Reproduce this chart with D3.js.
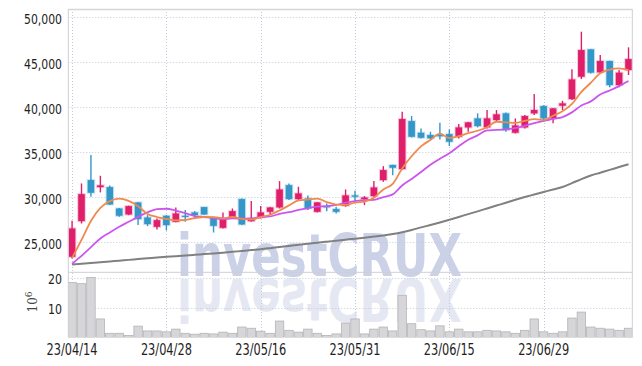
<!DOCTYPE html>
<html><head><meta charset="utf-8">
<script src="https://cdn.jsdelivr.net/npm/d3@7"></script>
<style>
body{margin:0;background:#fff}
svg{display:block}
text{font-family:"DejaVu Sans Condensed","DejaVu Sans",sans-serif}
</style>
</head><body><svg id="c" width="642" height="366"></svg>
<script>
const dates=["23/04/14","23/04/17","23/04/18","23/04/19","23/04/20","23/04/21","23/04/24","23/04/25","23/04/26","23/04/27",
"23/04/28","23/05/02","23/05/03","23/05/04","23/05/08","23/05/09","23/05/10","23/05/11","23/05/12","23/05/15",
"23/05/16","23/05/17","23/05/18","23/05/19","23/05/22","23/05/23","23/05/24","23/05/25","23/05/26","23/05/30",
"23/05/31","23/06/01","23/06/02","23/06/05","23/06/07","23/06/08","23/06/09","23/06/12","23/06/13","23/06/14",
"23/06/15","23/06/16","23/06/19","23/06/20","23/06/21","23/06/22","23/06/23","23/06/26","23/06/27","23/06/28",
"23/06/29","23/06/30","23/07/03","23/07/04","23/07/05","23/07/06","23/07/07","23/07/10","23/07/11","23/07/12"];
const open=[23370,27330,31890,31110,31110,28740,28070,29410,27740,26700,27930,27260,27930,28300,28890,27740,26590,27700,29780,27330,
27740,28370,28850,31330,29780,29850,28370,29000,28670,29040,30190,29780,30110,31890,33560,33110,38440,37150,36890,36890,
37000,36700,37740,38740,37740,38560,39300,37150,37740,39300,40110,38740,40150,40890,43370,46410,43850,45110,42440,44110];
const high=[27370,31520,34670,32370,31300,28780,29050,29450,28000,27630,28000,28850,28560,28440,28900,27800,28300,28740,29850,29560,
29000,28900,31780,31520,31150,30190,29450,29300,28930,30850,30700,30110,31780,33440,33600,39480,39000,37630,37260,38260,
37520,38110,38350,39300,39670,39670,39400,38740,39110,41440,40200,39900,40700,44190,48370,46450,45780,45150,44110,46630];
const low=[23190,27070,30040,30520,29110,27810,28000,26890,26780,26410,26300,27200,27260,27560,28000,26070,26520,27630,26890,27260,
27630,28000,28740,29670,29670,28560,28300,28440,28180,28930,29480,29110,30040,31700,32440,33000,36630,36520,36410,36410,
35670,36520,37260,37740,37630,38370,37260,37070,37630,39110,38370,38190,39670,40780,43110,43740,43740,42190,42190,43560];
const close=[26520,30330,30480,31300,29180,27930,29000,27560,27000,27440,26890,28180,27810,28000,28070,26810,27630,28440,26960,27630,
28300,28850,30850,29780,30410,28740,29410,28930,28370,30190,30040,29960,31070,33000,33260,38670,36700,36590,36520,36780,
36150,37740,38300,37890,38740,39190,37440,37960,39000,39670,38740,39850,40410,43070,46330,43820,45110,42440,43820,45330];
const volume=[18.4,18.0,20.1,6.2,1.4,1.4,0.7,3.8,2.2,2.2,1.9,2.8,1.4,1.1,1.4,1.2,1.8,1.4,3.5,3.1,
2.1,1.4,5.5,2.4,1.8,2.8,1.4,0.7,1.2,4.8,6.2,1.2,2.8,3.5,2.2,14.1,4.6,2.6,2.2,3.9,
1.9,2.8,1.9,1.9,2.4,2.2,1.9,1.4,2.4,6.2,1.9,1.4,1.9,6.5,8.5,3.5,3.1,2.8,2.4,3.1];
const ma5=[23250,25250,27350,28800,29560,29840,29580,28990,28130,27790,27580,27410,27460,27660,27790,27770,27660,27790,27580,27490,
27790,28040,28520,29080,29640,29730,29840,29450,29170,29130,29390,29500,29930,30850,31470,33190,34540,35640,36350,37050,
36550,36760,37100,37370,37760,38370,38310,38240,38470,38650,38560,39040,39530,40350,41680,42700,43750,44150,44300,44100];
const ma10=[22600,23480,24440,25400,26070,26700,27260,27810,28300,28670,28710,28500,28230,27900,27790,27680,27540,27630,27620,27640,
27780,27850,28150,28330,28570,28760,28940,28990,29130,29380,29560,29670,29690,30010,30300,31290,32020,32790,33600,34260,
34870,35650,36370,36860,37410,37460,37530,37670,37920,38210,38470,38680,38890,39410,40170,40630,41400,41840,42330,42890];
const ma60=[22520,22605,22690,22775,22860,22945,23030,23115,23200,23290,23370,23440,23510,23590,23670,23750,23830,23920,24020,24120,
24210,24330,24460,24580,24700,24820,24940,25050,25160,25270,25380,25500,25620,25740,25900,26100,26350,26640,26900,27180,
27480,27800,28110,28420,28740,29060,29380,29710,30010,30290,30570,30850,31130,31550,32000,32400,32710,33020,33340,33650];
const priceTicks=[25000,30000,35000,40000,45000,50000];
const volTicks=[10,20];
const dateTicks=["23/04/14","23/04/28","23/05/16","23/05/31","23/06/15","23/06/29"];

const L=68.3,R=632.3,T=9,MID=272.3,B=337.5;
const svg=d3.select("#c");
const x=d3.scalePoint().domain(dates).range([L,R]).padding(0.4);
const y=d3.scaleLinear().domain([21650,50890]).range([MID,T]);
const yv=d3.scaleLinear().domain([0,21.8]).range([B,MID]);
const step=x.step();
const gridCol="#c6c9dc";

svg.append("defs").append("clipPath").attr("id","clipP").append("rect").attr("x",L).attr("y",T).attr("width",R-L).attr("height",B-T);

// gridlines
const grid=svg.append("g");
grid.selectAll(".hg").data(priceTicks).join("line")
  .attr("x1",L).attr("x2",R).attr("y1",d=>Math.round(y(d))+0.5).attr("y2",d=>Math.round(y(d))+0.5)
  .attr("stroke",gridCol).attr("stroke-dasharray","1,2");
grid.selectAll(".vg").data(volTicks).join("line")
  .attr("x1",L).attr("x2",R).attr("y1",d=>Math.round(yv(d))+0.5).attr("y2",d=>Math.round(yv(d))+0.5)
  .attr("stroke",gridCol).attr("stroke-dasharray","1,2");
grid.selectAll(".xg").data(dateTicks).join("line")
  .attr("x1",d=>Math.round(x(d))+0.5).attr("x2",d=>Math.round(x(d))+0.5).attr("y1",T).attr("y2",B)
  .attr("stroke",gridCol).attr("stroke-dasharray","1,2");

// watermark
const wm=svg.append("g");
wm.append("text").attr("x",319.5).attr("y",276).attr("text-anchor","middle")
  .attr("font-size",58).attr("font-weight","bold").attr("fill","#c3cae2").attr("opacity",0.85)
  .attr("textLength",285).attr("lengthAdjust","spacingAndGlyphs").text("investCRUX");
wm.append("text").attr("x",319.5).attr("y",276).attr("text-anchor","middle")
  .attr("transform","translate(0,555) scale(1,-1)")
  .attr("font-size",58).attr("font-weight","bold").attr("fill","#c3cae2").attr("opacity",0.42)
  .attr("textLength",285).attr("lengthAdjust","spacingAndGlyphs").text("investCRUX");

// volume bars
svg.append("g").attr("clip-path","url(#clipP)").selectAll("rect").data(dates).join("rect")
  .attr("x",d=>x(d)-step/2+0.5).attr("width",step-1)
  .attr("y",(d,i)=>yv(volume[i])).attr("height",(d,i)=>B-yv(volume[i]))
  .attr("fill","#d6d6d8").attr("stroke","#b4b4b8").attr("stroke-width",0.8);

// candles
const up="#e01f6b",dn="#3497c9";
const cg=svg.append("g");
cg.selectAll("line").data(dates).join("line")
  .attr("x1",d=>x(d)).attr("x2",d=>x(d))
  .attr("y1",(d,i)=>y(high[i])).attr("y2",(d,i)=>y(low[i]))
  .attr("stroke",(d,i)=>close[i]>=open[i]?up:dn).attr("stroke-width",1.4);
cg.selectAll("rect").data(dates).join("rect")
  .attr("x",d=>x(d)-3.3).attr("width",6.6)
  .attr("y",(d,i)=>y(Math.max(open[i],close[i])))
  .attr("height",(d,i)=>Math.max(1.2,Math.abs(y(open[i])-y(close[i]))))
  .attr("fill",(d,i)=>close[i]>=open[i]?up:dn)
  .attr("stroke",(d,i)=>close[i]>=open[i]?up:dn).attr("stroke-opacity",0.25).attr("stroke-width",2);

// MA lines
const line=arr=>d3.line().x(d=>x(d)).y((d,i)=>y(arr[i])).curve(d3.curveMonotoneX)(dates);
svg.append("path").attr("d",line(ma60)).attr("fill","none").attr("stroke","#808080").attr("stroke-width",2);
svg.append("path").attr("d",line(ma10)).attr("fill","none").attr("stroke","#cc55ee").attr("stroke-width",1.8);
svg.append("path").attr("d",line(ma5)).attr("fill","none").attr("stroke","#ef8a4f").attr("stroke-width",1.8);

// frame
const fr=svg.append("g").attr("stroke","#cfcfd4").attr("fill","none");
fr.append("line").attr("x1",L).attr("x2",R).attr("y1",T+0.5).attr("y2",T+0.5).attr("stroke","#d6d6d6").attr("stroke-width",1.5);
fr.append("line").attr("x1",L).attr("x2",R).attr("y1",MID).attr("y2",MID);
fr.append("line").attr("x1",L).attr("x2",L).attr("y1",T).attr("y2",B);
fr.append("line").attr("x1",R).attr("x2",R).attr("y1",T).attr("y2",B);

// axis labels
svg.append("g").selectAll("text").data(priceTicks).join("text")
  .attr("x",62).attr("y",d=>y(d)+6.5).attr("text-anchor","end").attr("font-size",14).attr("fill","#1e1e1e")
  .attr("textLength",38).attr("lengthAdjust","spacingAndGlyphs")
  .text(d3.format(","));
svg.append("g").selectAll("text").data(volTicks).join("text")
  .attr("x",62).attr("y",d=>yv(d)+6.5).attr("text-anchor","end").attr("font-size",14).attr("fill","#1e1e1e")
  .attr("textLength",14).attr("lengthAdjust","spacingAndGlyphs")
  .text(d=>d);
svg.append("g").selectAll("text").data(dateTicks).join("text")
  .attr("x",d=>x(d)).attr("y",354.5).attr("text-anchor","middle").attr("font-size",15).attr("fill","#1e1e1e")
  .attr("textLength",51).attr("lengthAdjust","spacingAndGlyphs")
  .text(d=>d);
const ul=svg.append("text").attr("transform","translate(37,302) rotate(-90)").attr("text-anchor","middle")
  .attr("font-size",12).attr("fill","#444").style("font-family","DejaVu Serif");
ul.append("tspan").text("10");
ul.append("tspan").attr("dy",-5).attr("font-size",9).text("6");
</script>
</body></html>
